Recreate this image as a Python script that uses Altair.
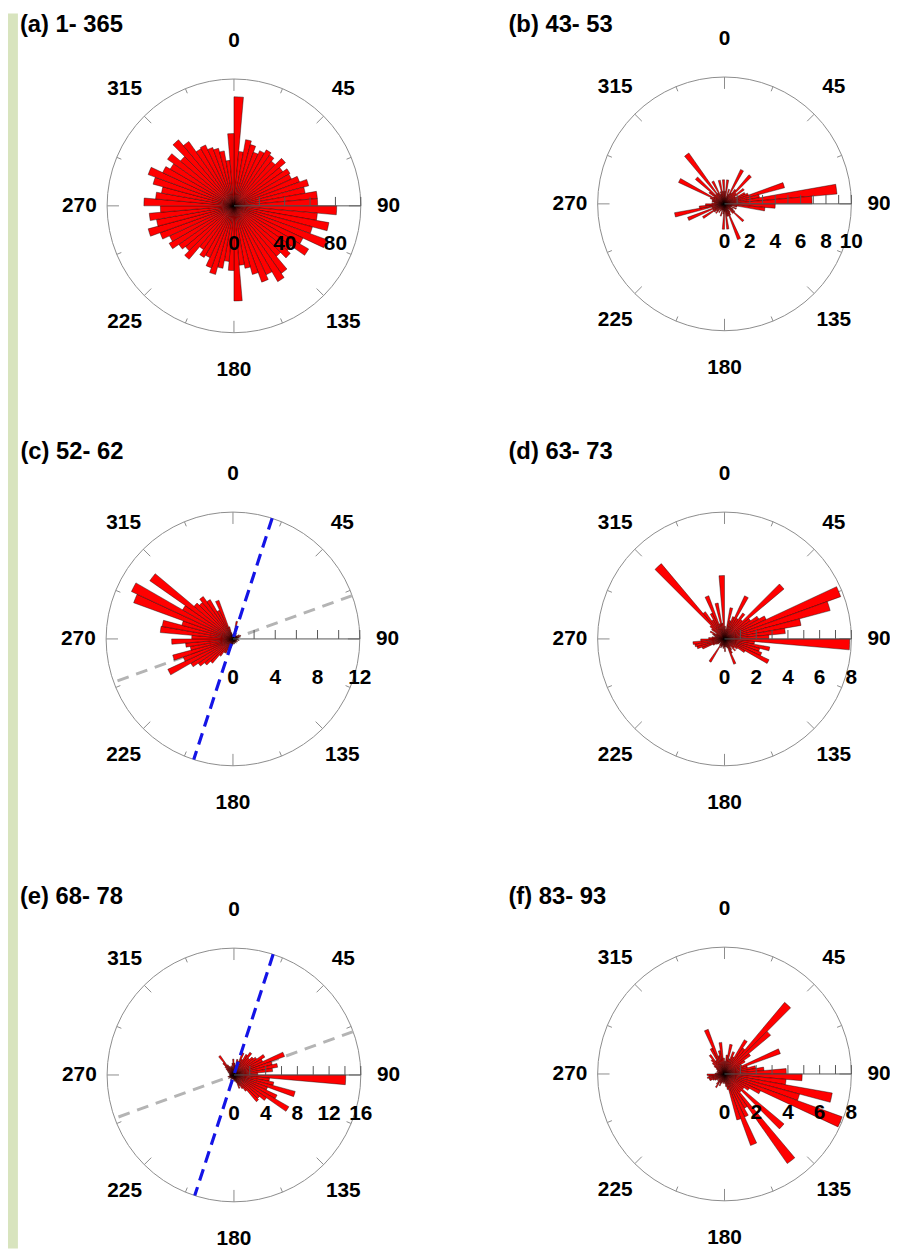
import math
import altair as alt
import pandas as pd

# ---------------- data ----------------
BIN_START = list(range(0, 360, 5))   # 5-degree direction bins
BIN_WIDTH = 5

VALUES_A = [
    86, 43, 53, 50, 45, 48, 51, 49, 46, 53, 47, 51,
    50, 55, 61, 57, 66, 66, 81, 66, 76, 64, 78, 60,
    68, 55, 58, 52, 65, 69, 60, 64, 56, 50, 47, 75,
    51, 44, 50, 56, 52, 45, 47, 42, 55, 50, 53, 59,
    56, 62, 70, 62, 67, 58, 71, 62, 58, 66, 72, 62,
    58, 64, 55, 68, 62, 52, 53, 49, 47, 44, 36, 57,
]
VALUES_B = [
    1.0, 1.9, 0.5, 1.2, 0.8, 3.0, 1.0, 1.4, 3.0, 1.2, 1.9, 1.0,
    1.8, 2.0, 4.9, 2.8, 8.9, 6.9, 4.0, 3.2, 1.0, 0.6, 1.0, 0.5,
    0.8, 1.0, 2.0, 1.0, 0.5, 0.8, 1.0, 3.0, 1.0, 1.0, 2.0, 0.6,
    2.0, 0.8, 0.5, 1.0, 0.5, 0.6, 0.8, 0.5, 1.0, 0.8, 1.0, 2.0,
    1.0, 3.1, 1.0, 4.0, 2.0, 1.5, 1.0, 0.8, 1.0, 1.0, 1.2, 4.0,
    1.0, 1.5, 3.0, 1.0, 4.9, 1.0, 2.0, 0.8, 1.0, 1.9, 1.0, 1.9,
]
VALUES_C = [
    0.3, 0.5, 1.7, 0.3, 0.5, 0.3, 0.6, 0.3, 0.4, 0.3, 0.5, 0.7,
    0.4, 0.8, 0.5, 0.6, 0.4, 0.3, 0.5, 0.4, 0.6, 0.3, 0.4, 0.3,
    0.5, 0.3, 0.4, 0.3, 0.5, 0.3, 0.4, 0.3, 0.5, 0.3, 0.3, 0.5,
    0.5, 0.6, 0.8, 1.0, 1.0, 1.5, 1.5, 2.0, 3.0, 3.5, 4.0, 4.6,
    6.8, 5.0, 5.9, 4.1, 4.5, 5.8, 3.9, 6.9, 6.8, 5.0, 10.0, 10.6,
    5.5, 9.6, 4.8, 4.5, 4.9, 4.3, 3.0, 3.9, 1.2, 0.6, 0.4, 0.3,
]
VALUES_D = [
    0.8, 0.6, 2.0, 1.2, 1.5, 3.0, 1.5, 2.0, 1.6, 4.9, 2.0, 2.5,
    2.9, 7.8, 6.9, 4.9, 3.85, 2.8, 7.9, 1.9, 2.9, 2.3, 2.5, 3.1,
    1.5, 1.0, 0.8, 1.0, 0.6, 0.8, 1.0, 1.7, 0.6, 0.5, 0.5, 0.8,
    0.5, 0.6, 0.4, 0.5, 0.6, 0.5, 1.7, 0.5, 0.4, 0.3, 0.5, 0.6,
    0.8, 1.5, 1.8, 1.9, 2.0, 1.5, 1.0, 0.8, 0.6, 0.7, 0.8, 1.0,
    0.6, 1.0, 1.2, 6.2, 2.1, 1.4, 1.8, 2.9, 1.0, 2.3, 1.0, 4.0,
]
VALUES_E = [
    1.5, 1.2, 2.0, 1.8, 3.0, 2.2, 3.0, 3.5, 2.8, 3.2, 3.5, 4.5,
    4.0, 6.8, 5.0, 5.6, 4.9, 3.0, 14.1, 4.5, 5.1, 8.0, 4.5, 6.0,
    8.0, 5.0, 4.2, 4.4, 2.5, 2.0, 1.5, 1.8, 1.0, 0.8, 0.6, 0.8,
    0.6, 0.5, 0.4, 0.5, 0.6, 0.5, 0.8, 0.5, 0.4, 0.6, 0.5, 0.8,
    0.6, 0.5, 0.8, 0.6, 0.5, 0.4, 0.6, 0.5, 0.4, 0.6, 0.8, 0.6,
    1.0, 1.2, 1.5, 2.0, 3.0, 1.5, 1.2, 1.0, 1.2, 1.0, 1.5, 2.0,
]
VALUES_F = [
    0.8, 1.2, 1.9, 1.0, 1.5, 1.2, 2.5, 2.0, 5.9, 3.8, 2.0, 1.5,
    1.2, 3.75, 1.5, 2.0, 2.5, 3.9, 4.9, 3.9, 6.9, 4.9, 7.9, 2.5,
    1.8, 1.5, 4.9, 1.5, 6.9, 2.5, 3.0, 4.8, 3.0, 1.0, 0.8, 0.6,
    0.5, 0.6, 0.5, 0.6, 0.8, 0.6, 1.0, 0.8, 0.6, 0.5, 0.6, 0.7,
    0.8, 1.0, 1.0, 1.1, 1.0, 1.1, 0.6, 0.5, 0.4, 0.5, 0.4, 0.5,
    0.6, 0.8, 1.0, 1.2, 1.5, 1.0, 1.8, 3.0, 1.2, 1.5, 2.0, 1.0,
]
PANEL_VALUES = [VALUES_A, VALUES_B, VALUES_C, VALUES_D, VALUES_E, VALUES_F]

PANEL_TITLES = ["(a) 1- 365", "(b) 43- 53", "(c) 52- 62",
                "(d) 63- 73", "(e) 68- 78", "(f) 83- 93"]
RADIAL_MAX = [100, 10, 12, 8, 16, 8]
RADIAL_TICK_STEP = [20, 1, 2, 1, 2, 1]
RADIAL_LABELS = [[0, 40, 80], [0, 2, 4, 6, 8, 10], [0, 4, 8, 12],
                 [0, 2, 4, 6, 8], [0, 4, 8, 12, 16], [0, 2, 4, 6, 8]]
DEGREE_LABELS = [0, 45, 90, 135, 180, 225, 270, 315]
RING_TICKS = [i * 22.5 for i in range(16)]
BLUE_TREND = [None, None, 18, None, 18, None]   # degrees
GRAY_TREND = [None, None, 70, None, 70, None]   # degrees

# ---------------- layout / style ----------------
W, H = 890, 1246
R = 128
CENTERS = [(228, 194), (723, 192), (227, 631), (723, 631), (228, 1071), (723, 1070)]
TITLE_XY = [(12, 11.5), (505, 11.5), (12.5, 442), (505, 442), (12, 891), (505, 891)]
KX, KY = 156, 166      # label distances (px)
FONT = "Liberation Sans"
RED = "#FF0000"
RING = "#8c8c8c"
AXIS = "#555555"
GREEN = "#D8E4BE"
LABEL_SIZE = 21
TITLE_SIZE = 24


def panel(i):
    M = RADIAL_MAX[i]
    cx, cy = CENTERS[i]
    k = M / R
    th = alt.Scale(domain=[0, 360], range=[0, 2 * math.pi])
    rs = alt.Scale(type="linear", domain=[0, M], range=[0, R], nice=False)
    xs = alt.Scale(domain=[-M, M], range=[cx - R, cx + R], nice=False, zero=False)
    ys = alt.Scale(domain=[-M, M], range=[cy + R, cy - R], nice=False, zero=False)
    ctr = dict(x=alt.value(cx), y=alt.value(cy))

    layers = []
    ring = alt.Chart(pd.DataFrame({"t0": [0], "t1": [360], "r": [M]})).mark_arc(
        fillOpacity=0, stroke=RING, strokeWidth=1
    ).encode(
        theta=alt.Theta("t0:Q", scale=th, stack=False), theta2=alt.Theta2("t1"),
        radius=alt.Radius("r:Q", scale=rs, stack=False), **ctr)
    layers.append(ring)

    rticks = alt.Chart(pd.DataFrame({"deg": RING_TICKS})).transform_calculate(
        L=f"(datum.deg % 90 == 0 ? 12 : (datum.deg % 45 == 0 ? 10 : 5)) * {k}"
    ).transform_calculate(
        x1=f"sin(datum.deg*PI/180)*{M}", y1=f"cos(datum.deg*PI/180)*{M}",
        x2=f"sin(datum.deg*PI/180)*({M}-datum.L)", y2=f"cos(datum.deg*PI/180)*({M}-datum.L)"
    ).mark_rule(color=RING, strokeWidth=1).encode(
        x=alt.X("x1:Q", scale=xs, axis=None), y=alt.Y("y1:Q", scale=ys, axis=None),
        x2=alt.X2("x2"), y2=alt.Y2("y2"))
    layers.append(rticks)

    def trend(angle, color, width, dash):
        return alt.Chart(pd.DataFrame({"a": [angle]})).transform_calculate(
            x1=f"sin(datum.a*PI/180)*{M}", y1=f"cos(datum.a*PI/180)*{M}"
        ).transform_calculate(x2="-datum.x1", y2="-datum.y1").mark_rule(
            color=color, strokeWidth=width, strokeDash=dash
        ).encode(x=alt.X("x1:Q", scale=xs, axis=None), y=alt.Y("y1:Q", scale=ys, axis=None),
                 x2=alt.X2("x2"), y2=alt.Y2("y2"))

    if GRAY_TREND[i] is not None:
        layers.append(trend(GRAY_TREND[i], "#b4b4b4", 3, [12, 8]))

    bars = alt.Chart(pd.DataFrame({"t0": BIN_START, "v": PANEL_VALUES[i]})).transform_filter(
        "datum.v > 0").transform_calculate(t1=f"datum.t0 + {BIN_WIDTH}").mark_arc(
        fill=RED, stroke="black", strokeWidth=0.4
    ).encode(theta=alt.Theta("t0:Q", scale=th, stack=False), theta2=alt.Theta2("t1"),
             radius=alt.Radius("v:Q", scale=rs, stack=False), **ctr)
    layers.append(bars)

    axis_line = alt.Chart(pd.DataFrame({"a": [0], "b": [M], "z": [0]})).mark_rule(
        color=AXIS, strokeWidth=1).encode(
        x=alt.X("a:Q", scale=xs, axis=None), x2=alt.X2("b"),
        y=alt.Y("z:Q", scale=ys, axis=None))
    layers.append(axis_line)

    step = RADIAL_TICK_STEP[i]
    tvals = [step * j for j in range(1, int(round(M / step)) + 1)]
    axis_ticks = alt.Chart(pd.DataFrame({"t": tvals})).transform_calculate(
        z="0", h=f"{9 * k}").mark_rule(color=AXIS, strokeWidth=1).encode(
        x=alt.X("t:Q", scale=xs, axis=None), y=alt.Y("z:Q", scale=ys, axis=None),
        y2=alt.Y2("h"))
    layers.append(axis_ticks)

    if BLUE_TREND[i] is not None:
        layers.append(trend(BLUE_TREND[i], "#1414E6", 3.2, [12, 7]))

    deg = alt.Chart(pd.DataFrame({"deg": DEGREE_LABELS})).transform_calculate(
        lx=f"sin(datum.deg*PI/180)*{M * KX / R}", ly=f"cos(datum.deg*PI/180)*{M * KY / R}"
    ).mark_text(font=FONT, fontSize=LABEL_SIZE, fontWeight="bold", color="black").encode(
        x=alt.X("lx:Q", scale=xs, axis=None), y=alt.Y("ly:Q", scale=ys, axis=None),
        text=alt.Text("deg:Q", format="d"))
    layers.append(deg)

    rl = alt.Chart(pd.DataFrame({"v": RADIAL_LABELS[i], "z": [0] * len(RADIAL_LABELS[i])})).mark_text(
        font=FONT, fontSize=LABEL_SIZE, fontWeight="bold", color="black", dy=39).encode(
        x=alt.X("v:Q", scale=xs, axis=None), y=alt.Y("z:Q", scale=ys, axis=None),
        text=alt.Text("v:Q", format="d"))
    layers.append(rl)

    tx, ty = TITLE_XY[i]
    title = alt.Chart(pd.DataFrame({"t": [PANEL_TITLES[i]]})).mark_text(
        align="left", baseline="middle", font=FONT, fontSize=TITLE_SIZE, fontWeight="bold",
        color="black").encode(x=alt.value(tx), y=alt.value(ty), text="t:N")
    layers.append(title)

    return alt.layer(*layers)


strip = alt.Chart(pd.DataFrame({"s": [0]})).mark_rect(color=GREEN).encode(
    x=alt.value(0), x2=alt.value(10), y=alt.value(0), y2=alt.value(H))

chart = alt.layer(strip, *[panel(i) for i in range(6)]).resolve_scale(
    x="independent", y="independent", theta="independent", radius="independent"
).properties(
    width=W, height=H, padding=0, autosize=alt.AutoSizeParams(type="none")
).configure_view(strokeWidth=0)

chart.save("out.html", embed_options={"renderer": "svg", "actions": False})
